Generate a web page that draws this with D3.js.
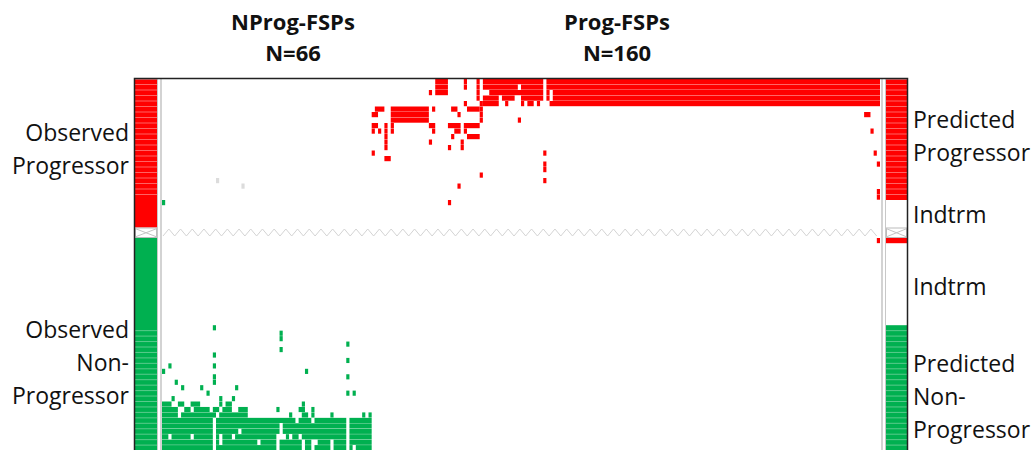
<!DOCTYPE html>
<html>
<head>
<meta charset="utf-8">
<script src="https://cdn.jsdelivr.net/npm/d3@7"></script>
<style>
  body { margin: 0; background: #fff; }
  svg { display: block; font-family: "Open Sans", sans-serif; }
</style>
</head>
<body>
<div id="chart"></div>
<script>
// =============================================================================
// data
// =============================================================================
var groupNames = ["NProg-FSPs", "Prog-FSPs"];
var groupCounts = [66, 160];
var nCols = 226;

var nProgRows = 27;   // observed progressors
var nNonRows = 40;    // observed non-progressors (visible part)

// predicted class per row block: P = progressor, I = indeterminate, N = non-progressor
var predProg = [["P", 22], ["I", 5]];
var predNon = [["P", 1], ["I", 15], ["N", 24]];

var leftLabelText = [["Observed", "Progressor"], ["Observed", "Non-", "Progressor"]];
var rightLabelText = [["Predicted", "Progressor"], ["Indtrm"], ["Indtrm"], ["Predicted", "Non-", "Progressor"]];

// cell runs: [row, firstCol, lastCol]
var progRed = [
  [0, 86, 89], [1, 86, 89], [2, 86, 89], [2, 84, 84],
  [0, 95, 95], [1, 95, 95], [4, 95, 95],
  [0, 99, 99], [1, 99, 99], [2, 99, 99], [3, 99, 99],
  [0, 101, 119], [0, 121, 225],
  [1, 101, 111], [1, 113, 119], [1, 121, 225],
  [2, 103, 119], [2, 121, 121], [2, 123, 225],
  [3, 101, 105], [3, 107, 110], [3, 113, 119], [3, 121, 121], [3, 123, 225],
  [4, 101, 105], [4, 108, 108], [4, 113, 113], [4, 115, 116], [4, 118, 118], [4, 122, 225],
  [5, 67, 69], [6, 66, 67],
  [5, 72, 83], [6, 72, 83], [7, 72, 83],
  [5, 85, 85], [5, 91, 92], [6, 93, 93], [5, 96, 99],
  [4, 100, 100], [5, 100, 100], [6, 100, 100], [7, 100, 100], [7, 112, 112], [6, 221, 222],
  [8, 66, 67], [9, 66, 66], [9, 68, 68],
  [8, 70, 70], [9, 70, 70], [10, 70, 70], [11, 70, 70], [12, 70, 70],
  [8, 72, 72], [9, 72, 72], [13, 66, 66], [14, 70, 71],
  [8, 84, 85], [9, 85, 85], [11, 84, 84],
  [8, 90, 93], [8, 95, 95], [9, 92, 93], [9, 95, 95], [10, 91, 91],
  [8, 96, 99], [10, 96, 99],
  [12, 90, 90], [11, 94, 94], [12, 94, 94],
  [9, 223, 223], [13, 224, 224], [15, 225, 225], [20, 225, 225], [21, 225, 225],
  [13, 120, 120], [15, 120, 120], [16, 120, 120], [18, 120, 120],
  [17, 100, 100], [19, 93, 93], [22, 90, 90]
];
var progGreen = [[22, 0, 0]];
var progGray = [[18, 17, 17], [19, 25, 25]];

var nonRed = [[0, 225, 225]];
var nonGreen = [
  [16, 16, 16], [17, 37, 37], [18, 37, 37], [20, 37, 37],
  [19, 58, 58], [22, 58, 58], [25, 58, 58], [28, 58, 58], [28, 60, 60],
  [21, 16, 16], [23, 16, 16], [25, 16, 16], [26, 16, 16],
  [24, 0, 0], [23, 2, 2], [26, 4, 4], [27, 6, 6], [27, 12, 12], [28, 14, 14], [27, 23, 23],
  [24, 45, 45], [29, 3, 3], [29, 18, 18], [29, 22, 22],
  [30, 0, 2], [30, 5, 6], [30, 9, 11], [30, 18, 18], [30, 20, 21], [30, 44, 44],
  [31, 0, 4], [31, 7, 8], [31, 10, 14], [31, 16, 17], [31, 19, 21], [31, 24, 26],
  [31, 36, 36], [31, 43, 44], [31, 47, 47],
  [32, 0, 4], [32, 6, 16], [32, 18, 26], [32, 40, 40], [32, 44, 45], [32, 47, 47],
  [32, 53, 53], [32, 63, 63], [32, 65, 65],
  [33, 0, 15], [33, 17, 41], [33, 43, 46], [33, 48, 57], [33, 59, 65],
  [34, 0, 15], [34, 17, 36], [34, 38, 57], [34, 59, 65],
  [35, 0, 15], [35, 17, 23], [35, 25, 36], [35, 38, 57], [35, 59, 65],
  [36, 0, 1], [36, 3, 8], [36, 10, 15], [36, 17, 17], [36, 19, 21], [36, 23, 35],
  [36, 39, 39], [36, 41, 42], [36, 44, 57], [36, 59, 65],
  [37, 0, 15], [37, 17, 17], [37, 19, 29], [37, 31, 35], [37, 37, 43], [37, 45, 46],
  [37, 49, 52], [37, 54, 57], [37, 59, 65],
  [38, 0, 15], [38, 17, 35], [38, 37, 43], [38, 45, 46], [38, 48, 52], [38, 54, 57],
  [38, 59, 59], [38, 61, 65],
  [39, 0, 15], [39, 17, 57], [39, 59, 65]
];

// =============================================================================
// layout
// =============================================================================
var width = 1035, height = 450;
var RED = "#ff0000", GREEN = "#00b050";
var colour = { P: RED, N: GREEN, I: "#ffffff" };
var stripe = { P: "#ff8c8c", N: "#7fd6a6" };

var plotLeft = 162, plotRight = 880;
var progTop = 79, progRowH = 5.5;
var sepTop = progTop + nProgRows * progRowH, sepH = 10.5;
var nonTop = sepTop + sepH, nonRowH = 5.45;
var leftBar = [135, 157], rightBar = [886, 907];

var svg = d3.select("#chart").append("svg")
  .attr("width", width)
  .attr("height", height);

var x = d3.scaleLinear().domain([0, nCols]).range([plotLeft, plotRight]);
var yProg = d3.scaleLinear().domain([0, nProgRows]).range([progTop, progTop + nProgRows * progRowH]);
var yNon = d3.scaleLinear().domain([0, nNonRows]).range([nonTop, nonTop + nNonRows * nonRowH]);

// =============================================================================
// bars of observed / predicted class
// =============================================================================
function expand(blocks) {
  var out = [];
  blocks.forEach(function (b) { for (var i = 0; i < b[1]; i++) out.push(b[0]); });
  return out;
}
// [class, firstRow, rowCount]
function toBlocks(blocks) {
  var out = [], start = 0;
  blocks.forEach(function (b) { out.push([b[0], start, b[1]]); start += b[1]; });
  return out;
}
var predProgRows = expand(predProg);
var predNonRows = expand(predNon);

function drawBar(x0, x1, blocksProg, blocksNon) {
  var g = svg.append("g");
  g.selectAll(null).data(toBlocks(blocksProg)).enter().append("rect")
    .attr("x", x0).attr("width", x1 - x0)
    .attr("y", function (d) { return yProg(d[1]); })
    .attr("height", function (d) { return yProg(d[1] + d[2]) - yProg(d[1]); })
    .attr("fill", function (d) { return colour[d[0]]; });
  g.selectAll(null).data(toBlocks(blocksNon)).enter().append("rect")
    .attr("x", x0).attr("width", x1 - x0)
    .attr("y", function (d) { return yNon(d[1]); })
    .attr("height", function (d) { return yNon(d[1] + d[2]) - yNon(d[1]); })
    .attr("fill", function (d) { return colour[d[0]]; });

  // light stripes between rows where the prediction matches the observation
  var lines = [];
  predProgRows.forEach(function (d, i) { if (d === "P" && i > 0) lines.push([yProg(i), stripe.P]); });
  predNonRows.forEach(function (d, i) { if (d === "N" && predNonRows[i - 1] === "N") lines.push([yNon(i), stripe.N]); });
  g.selectAll(null).data(lines).enter().append("line")
    .attr("x1", x0).attr("x2", x1)
    .attr("y1", function (d) { return d[0]; })
    .attr("y2", function (d) { return d[0]; })
    .attr("stroke", function (d) { return d[1]; })
    .attr("stroke-width", 0.7);

  // separator box with a cross
  g.append("rect")
    .attr("x", x0 + 0.5).attr("y", sepTop + 0.5)
    .attr("width", x1 - x0 - 1).attr("height", sepH - 1)
    .attr("fill", "#fff").attr("stroke", "#bbb");
  g.append("path")
    .attr("d", "M" + x0 + "," + (sepTop + 1) + "L" + x1 + "," + (sepTop + sepH - 1) +
               "M" + x0 + "," + (sepTop + sepH - 1) + "L" + x1 + "," + (sepTop + 1))
    .attr("fill", "none").attr("stroke", "#c4c4c4").attr("stroke-width", 1);

  // outline
  g.append("rect")
    .attr("x", x0 - 0.5).attr("y", progTop)
    .attr("width", x1 - x0 + 1).attr("height", height - progTop + 5)
    .attr("fill", "none").attr("stroke", "#c8c8c8").attr("stroke-width", 1);
}

drawBar(leftBar[0], leftBar[1], [["P", nProgRows]], [["N", nNonRows]]);
drawBar(rightBar[0], rightBar[1], predProg, predNon);

// =============================================================================
// FSP cells
// =============================================================================
var cells = svg.append("g");

function drawRuns(runs, yScale, fill) {
  cells.selectAll(null).data(runs).enter().append("rect")
    .attr("x", function (d) { return x(d[1]); })
    .attr("y", function (d) { return yScale(d[0]); })
    .attr("width", function (d) { return x(d[2] + 1) - x(d[1]); })
    .attr("height", yScale(1) - yScale(0) - 0.3)
    .attr("fill", fill);
}
drawRuns(progRed, yProg, RED);
drawRuns(progGreen, yProg, GREEN);
drawRuns(progGray, yProg, "#dcdcdc");
drawRuns(nonRed, yNon, RED);
drawRuns(nonGreen, yNon, GREEN);

// zig-zag separator across the cell area
var zz = [];
var step = 5.85, k = 0;
for (var px = plotLeft + 1; px <= plotRight; px += step, k++) {
  zz.push([px, k % 2 === 0 ? sepTop + sepH - 2 : sepTop + 1.5]);
}
svg.append("path")
  .attr("d", d3.line()(zz))
  .attr("fill", "none")
  .attr("stroke", "#d4d4d4")
  .attr("stroke-width", 1);

// divider lines between bars and cells
[plotLeft - 1, plotRight + 2].forEach(function (lx) {
  svg.append("line")
    .attr("x1", lx).attr("x2", lx)
    .attr("y1", progTop).attr("y2", height)
    .attr("stroke", "#c8c8c8").attr("stroke-width", 1.6);
});

// frame
svg.append("path")
  .attr("d", "M" + (leftBar[0] - 0.5) + "," + height + "V" + (progTop - 0.5) +
             "H" + (rightBar[1] + 0.5) + "V" + height)
  .attr("fill", "none").attr("stroke", "#222").attr("stroke-width", 1.5);

// =============================================================================
// text
// =============================================================================
var groupCentres = [293, 617];
groupNames.forEach(function (name, i) {
  var t = svg.append("text")
    .attr("text-anchor", "middle")
    .attr("font-weight", "bold")
    .attr("font-size", 22)
    .attr("fill", "#111");
  t.append("tspan").attr("x", groupCentres[i]).attr("y", 30).text(name);
  t.append("tspan").attr("x", groupCentres[i]).attr("y", 61).text("N=" + groupCounts[i]);
});

var lineGap = 33;
function drawLabel(lines, lx, cy, anchor) {
  var t = svg.append("text")
    .attr("text-anchor", anchor)
    .attr("font-size", 23)
    .attr("fill", "#111");
  var y0 = cy - (lines.length - 1) * lineGap / 2;
  lines.forEach(function (s, i) {
    t.append("tspan").attr("x", lx).attr("y", y0 + i * lineGap).attr("dy", "0.36em").text(s);
  });
}
var leftCentres = [149, 363];
leftLabelText.forEach(function (l, i) { drawLabel(l, 129, leftCentres[i], "end"); });
var rightCentres = [136.5, 215, 287, 397];
rightLabelText.forEach(function (l, i) { drawLabel(l, 913, rightCentres[i], "start"); });
</script>
</body>
</html>
